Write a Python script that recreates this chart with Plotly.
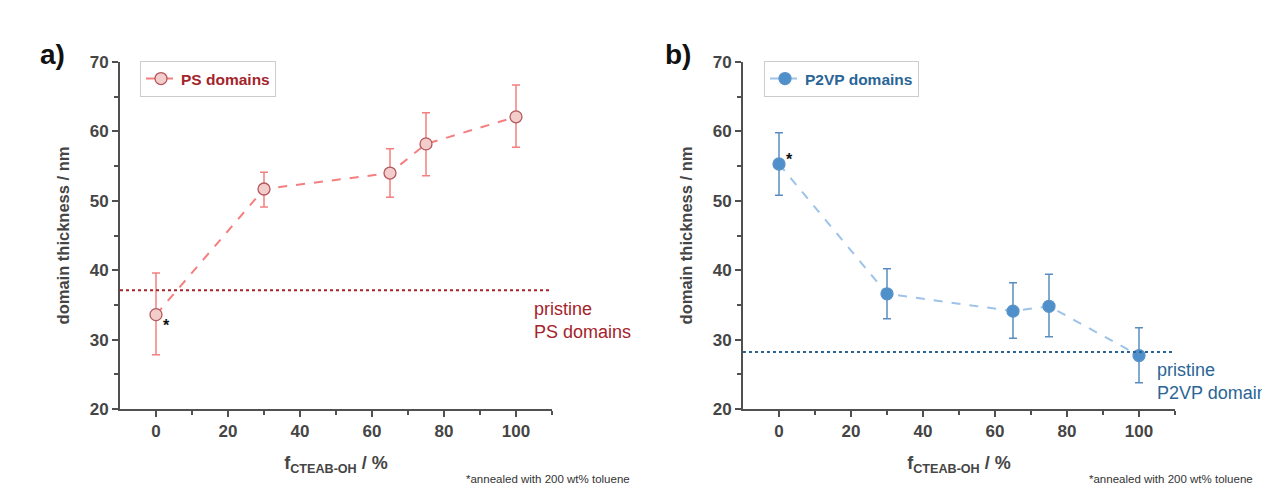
import plotly.graph_objects as go

f_cteab = [0, 30, 65, 75, 100]
ps_thick = [33.6, 51.7, 54.0, 58.2, 62.1]
ps_err_hi = [39.6, 54.1, 57.5, 62.7, 66.7]
ps_err_lo = [27.8, 49.1, 50.5, 53.6, 57.7]
p2vp_thick = [55.3, 36.6, 34.1, 34.8, 27.7]
p2vp_err_hi = [59.8, 40.2, 38.2, 39.4, 31.7]
p2vp_err_lo = [50.8, 33.0, 30.2, 30.4, 23.8]
ps_pristine = 37.1
p2vp_pristine = 28.2
x_ticks = [0, 20, 40, 60, 80, 100]
y_ticks = [20, 30, 40, 50, 60, 70]

PS_LINE = "#f57f7f"
PS_DARK = "#a3242b"
P2_LINE = "#9dc3e8"
P2_MARK = "#4f8fca"
P2_DARK = "#2a6596"
AXC = "#505050"
TXT = "#454545"
FONT = "Liberation Sans, Arial"

# page body has an 8px margin: figure occupies window minus that offset
OFF = 8
W, H = 1270 - OFF, 489 - OFF


def px(x):
    return (x - OFF) / W


def py(y):
    return 1 - (y - OFF) / H


fig = go.Figure()


def add_series(xs, ys, hi, lo, name, xa, ya, line_c, mfill, mline, err_c, legend):
    fig.add_trace(go.Scatter(
        x=xs, y=ys, name=name, mode="lines+markers", xaxis=xa, yaxis=ya,
        line=dict(color=line_c, width=2, dash="dash"),
        marker=dict(size=12, color=mfill, line=dict(color=mline, width=1.3)),
        error_y=dict(type="data", symmetric=False,
                     array=[h - y for h, y in zip(hi, ys)],
                     arrayminus=[y - l for l, y in zip(lo, ys)],
                     color=err_c, thickness=1.5, width=4),
        legend=legend, showlegend=True))


add_series(f_cteab, ps_thick, ps_err_hi, ps_err_lo, "PS domains", "x", "y",
           PS_LINE, "#f3cccc", "#b3585c", PS_LINE, "legend")
add_series(f_cteab, p2vp_thick, p2vp_err_hi, p2vp_err_lo, "P2VP domains", "x2", "y2",
           P2_LINE, P2_MARK, "#5a93c8", "#5a8dbf", "legend2")

# pristine lines
fig.add_trace(go.Scatter(x=[-10, 112], y=[ps_pristine, ps_pristine], mode="lines",
                         xaxis="x", yaxis="y", showlegend=False, cliponaxis=False,
                         line=dict(color=PS_DARK, width=2, dash="dot")))
fig.add_trace(go.Scatter(x=[-10, 112], y=[p2vp_pristine, p2vp_pristine], mode="lines",
                         xaxis="x2", yaxis="y2", showlegend=False, cliponaxis=False,
                         line=dict(color=P2_DARK, width=2, dash="dot")))

axis_common = dict(showline=True, linecolor=AXC, linewidth=2, ticks="outside",
                   tickcolor=AXC, ticklen=6, tickwidth=2, showgrid=False, zeroline=False,
                   automargin=False,
                   tickfont=dict(family=FONT, size=17, color=TXT, weight="bold"))

xt = dict(range=[-10, 110], tickvals=x_ticks, **axis_common)
xt["minor"] = dict(ticks="outside", ticklen=4, tickcolor=AXC, tickwidth=1.5,
                   tickvals=[10, 30, 50, 70, 90, 110])
yt = dict(range=[20, 70], tickvals=y_ticks, **axis_common)
yt["minor"] = dict(ticks="outside", ticklen=4, tickcolor=AXC, tickwidth=1.5,
                   tickvals=[25, 35, 45, 55, 65])

title_font = dict(family=FONT, size=16.5, color=TXT, weight="bold")
xtitle = dict(text="f<sub>CTEAB-OH</sub> / %",
              font=dict(family=FONT, size=18, color=TXT, weight="bold"), standoff=16)
ytitle = dict(text="domain thickness / nm", font=title_font, standoff=16)

y0, y1 = py(409), py(62)
fig.update_layout(
    width=W, height=H, margin=dict(l=0, r=0, t=0, b=0),
    paper_bgcolor="white", plot_bgcolor="white",
    xaxis=dict(domain=[px(120), px(552)], anchor="y", title=xtitle, **xt),
    yaxis=dict(domain=[y0, y1], anchor="x", title=ytitle, **yt),
    xaxis2=dict(domain=[px(743), px(1175)], anchor="y2", title=xtitle, **xt),
    yaxis2=dict(domain=[y0, y1], anchor="x2", title=ytitle, **yt),
    legend=dict(x=px(140), y=py(61), xanchor="left", yanchor="top",
                bordercolor="#cccccc", borderwidth=1, bgcolor="white",
                font=dict(family=FONT, size=15.5, color=PS_DARK, weight="bold"),
                itemwidth=30, tracegroupgap=0),
    legend2=dict(x=px(764), y=py(61), xanchor="left", yanchor="top",
                 bordercolor="#cccccc", borderwidth=1, bgcolor="white",
                 font=dict(family=FONT, size=15.5, color=P2_DARK, weight="bold"),
                 itemwidth=30, tracegroupgap=0),
)

ann = []
ann.append(dict(text="a)", x=px(38), y=py(54), xref="paper", yref="paper",
                showarrow=False, xanchor="left", yanchor="middle",
                font=dict(family=FONT, size=28, color="#111", weight="bold")))
ann.append(dict(text="b)", x=px(663), y=py(54), xref="paper", yref="paper",
                showarrow=False, xanchor="left", yanchor="middle",
                font=dict(family=FONT, size=28, color="#111", weight="bold")))
ann.append(dict(text="pristine<br>PS domains", x=104.5, y=ps_pristine - 1.0, xref="x", yref="y",
                showarrow=False, xanchor="left", yanchor="top", align="left",
                font=dict(family=FONT, size=18, color=PS_DARK)))
ann.append(dict(text="pristine<br>P2VP domains", x=104.5, y=p2vp_pristine - 0.8, xref="x2", yref="y2",
                showarrow=False, xanchor="left", yanchor="top", align="left",
                font=dict(family=FONT, size=18, color=P2_DARK)))
ann.append(dict(text="*", x=3.0, y=ps_thick[0] - 1.6, xref="x", yref="y", showarrow=False,
                font=dict(family=FONT, size=16, color="#111", weight="bold")))
ann.append(dict(text="*", x=3.0, y=p2vp_thick[0] + 0.7, xref="x2", yref="y2", showarrow=False,
                font=dict(family=FONT, size=16, color="#111", weight="bold")))
for xr in [632, 1255]:
    ann.append(dict(text="*annealed with 200 wt% toluene", x=px(xr), y=py(479),
                    xref="paper", yref="paper", showarrow=False, xanchor="right", yanchor="middle",
                    font=dict(family=FONT, size=11.5, color="#333")))
fig.update_layout(annotations=ann)

fig.write_html("out.html")
